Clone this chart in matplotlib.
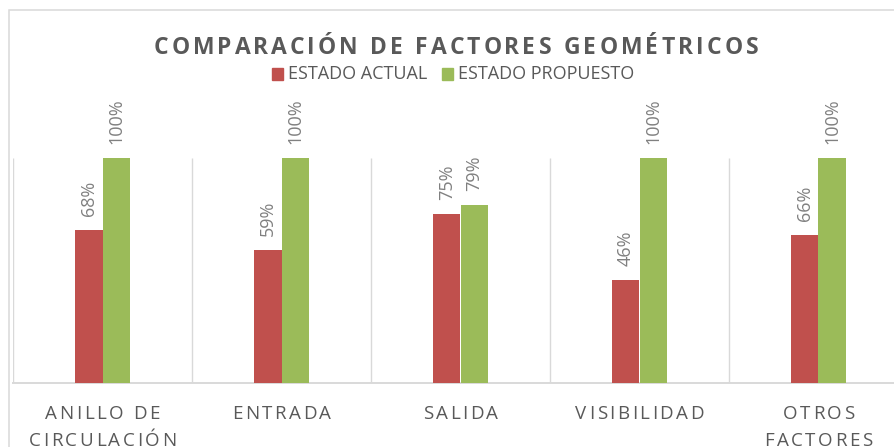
import matplotlib
matplotlib.use('Agg')
import matplotlib.pyplot as plt
from matplotlib.patches import Rectangle
import numpy as np

# datos del gráfico
categorias = ['ANILLO DE\nCIRCULACIÓN', 'ENTRADA', 'SALIDA', 'VISIBILIDAD', 'OTROS\nFACTORES']
estado_actual = [0.68, 0.59, 0.75, 0.46, 0.66]
estado_propuesto = [1.00, 1.00, 0.79, 1.00, 1.00]
series = ['ESTADO ACTUAL', 'ESTADO PROPUESTO']
titulo = 'COMPARACIÓN DE FACTORES GEOMÉTRICOS'

ROJO = '#C0504D'
VERDE = '#9BBB59'
GRIS_TXT = '#595959'
GRIS_LBL = '#808080'
GRIS_LIN = '#D9D9D9'
FUENTE = 'Open Sans'

W, H = 895, 447
fig = plt.figure(figsize=(W / 100, H / 100), dpi=100)
renderer = fig.canvas.get_renderer()


def px(x, y):
    # pixeles (desde arriba a la izquierda) -> fraccion de figura
    return x / W, 1 - y / H


def ancho(s, **kw):
    t = fig.text(0, 0, s, **kw)
    w = t.get_window_extent(renderer).width
    t.remove()
    return w


def texto_espaciado(x, y, s, tracking, **kw):
    # dibuja el texto letra por letra con espaciado extra, centrado en x
    barra = ancho('|', **kw)
    offs = [ancho(s[:i] + '|', **kw) - barra if i else 0 for i in range(len(s) + 1)]
    total = offs[-1] + tracking * (len(s) - 1)
    x0 = x - total / 2
    for i, ch in enumerate(s):
        if ch != ' ':
            fig.text(*px(x0 + offs[i] + tracking * i, y), ch,
                     ha='left', va='baseline', **kw)


# marco del gráfico
fig.patches.append(Rectangle(px(9, H + 20), (W + 20) / W, (H + 10) / H,
                             transform=fig.transFigure, fill=False,
                             edgecolor=GRIS_LIN, lw=1.1))

# área de trazado
izq, der, arriba, abajo = 13, 13 + 5 * 179, 158, 383
ax = fig.add_axes([izq / W, (H - abajo) / H, (der - izq) / W, (abajo - arriba) / H])
ax.patch.set_alpha(0)

x = np.arange(len(categorias))
bw = 0.152
b1 = ax.bar(x - bw / 2, estado_actual, bw, color=ROJO, zorder=3)
b2 = ax.bar(x + bw / 2, estado_propuesto, bw, color=VERDE, zorder=3)

ax.vlines(np.arange(-0.5, len(categorias)), 0, 1, color=GRIS_LIN, lw=1, zorder=1)
ax.set_xlim(-0.5, len(categorias) - 0.5)
ax.set_ylim(0, 1)
for s in ['top', 'left', 'right']:
    ax.spines[s].set_visible(False)
ax.spines['bottom'].set_color(GRIS_LIN)
ax.spines['bottom'].set_linewidth(1.4)
ax.set_xticks([])
ax.set_yticks([])

# etiquetas de datos
for barras in (b1, b2):
    for r in barras:
        v = r.get_height()
        ax.annotate(f'{v:.0%}', (r.get_x() + r.get_width() / 2, v),
                    xytext=(0, 10), textcoords='offset points',
                    rotation=90, ha='center', va='bottom',
                    fontsize=13, color=GRIS_LBL, family=FUENTE,
                    annotation_clip=False)

# título
texto_espaciado(456, 54, titulo, 3.2, fontsize=16.5, fontweight='bold',
                color=GRIS_TXT, family=FUENTE)

# leyenda
ley = [(272, ROJO, series[0]), (442, VERDE, series[1])]
for x0, col, nombre in ley:
    fig.patches.append(Rectangle(px(x0, 80), 11 / W, 12 / H,
                                 transform=fig.transFigure, color=col))
    fig.text(*px(x0 + 16, 79), nombre, ha='left', va='baseline',
             fontsize=13, color=GRIS_TXT, family=FUENTE)

# etiquetas del eje de categorías
for i, cat in enumerate(categorias):
    cx = izq + (i + 0.5) * 179
    for j, linea in enumerate(cat.split('\n')):
        texto_espaciado(cx, 419 + 27 * j, linea, 2.5, fontsize=13.5,
                        color=GRIS_TXT, family=FUENTE)

fig.savefig('out.png', dpi=100)
